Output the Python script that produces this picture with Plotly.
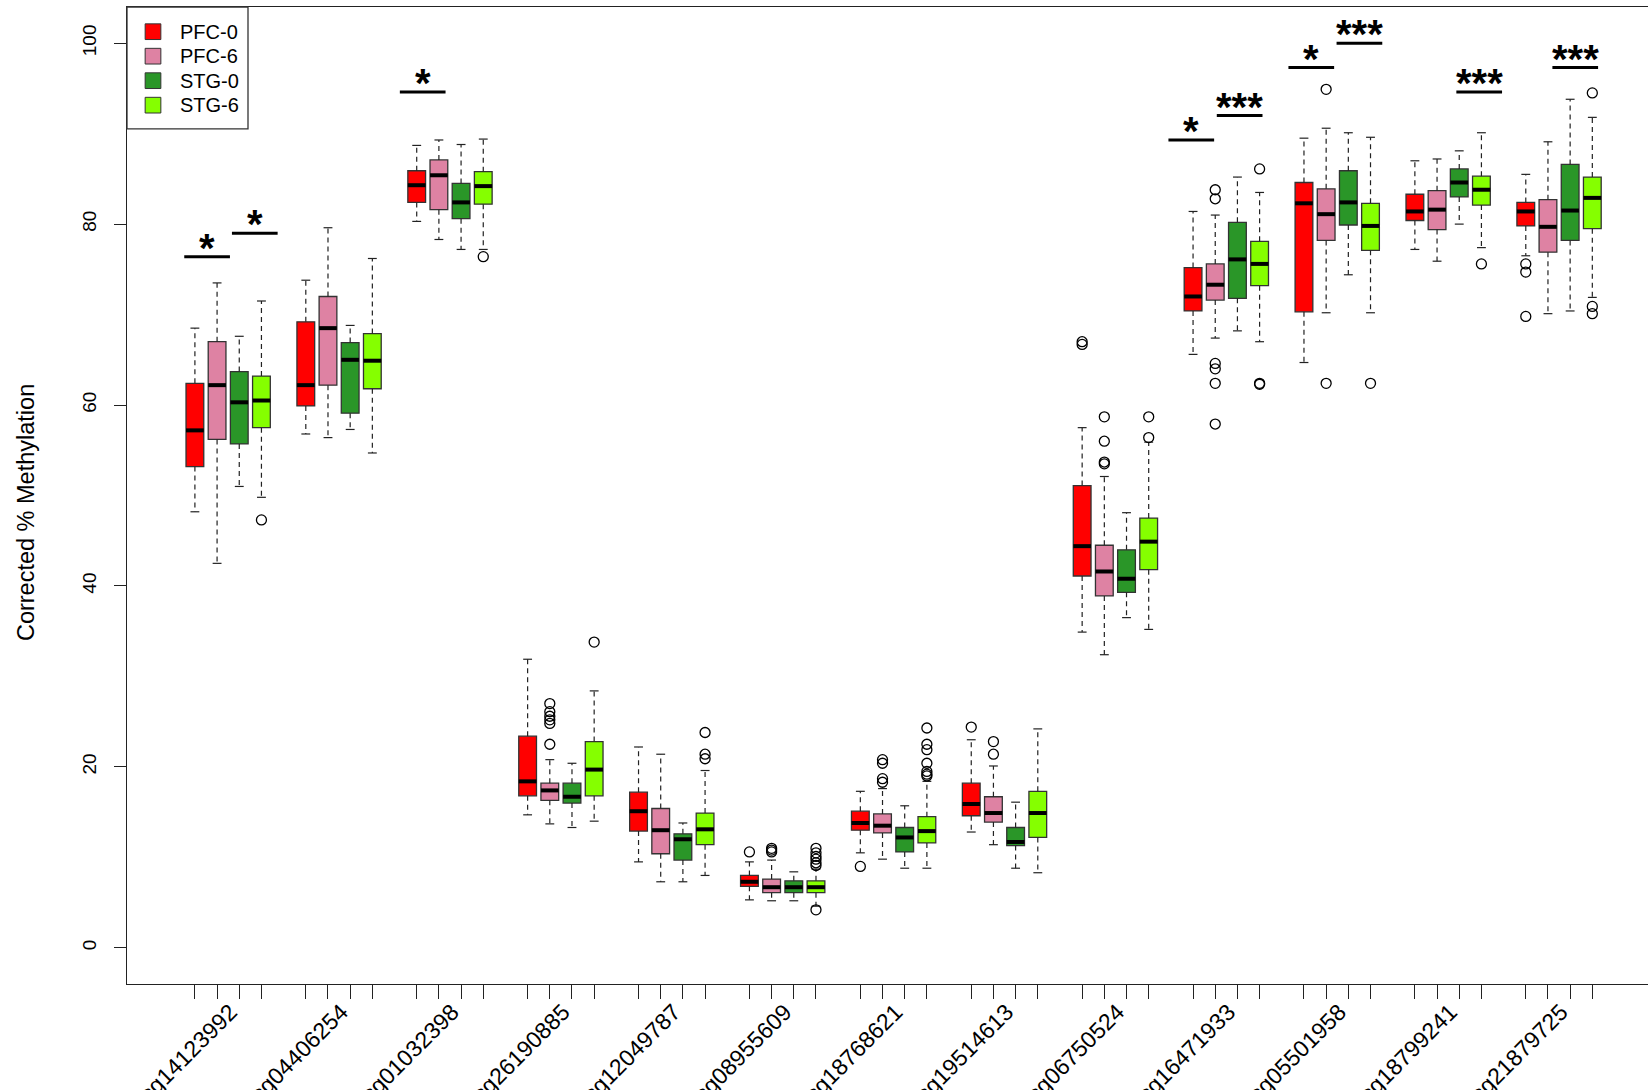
import plotly.graph_objects as go

# CpG sites on the x axis
sites = ["cg14123992", "cg04406254", "cg01032398", "cg26190885", "cg12049787",
         "cg08955609", "cg18768621", "cg19514613", "cg06750524", "cg16471933",
         "cg05501958", "cg18799241", "cg21879725"]
groups = ["PFC-0", "PFC-6", "STG-0", "STG-6"]
fill_colors = ["#FF0000", "#DE82A3", "#2A9628", "#85FF00"]

# (lower whisker, Q1, median, Q3, upper whisker) for every site
pfc0_stats = [(48.2, 53.2, 57.2, 62.4, 68.5), (56.8, 59.9, 62.2, 69.2, 73.8),
              (80.3, 82.4, 84.3, 85.9, 88.7), (14.7, 16.8, 18.4, 23.4, 31.9),
              (9.5, 12.9, 15.1, 17.2, 22.2), (5.3, 6.8, 7.3, 8.0, 9.5),
              (10.5, 13.0, 13.8, 15.1, 17.3), (12.8, 14.6, 15.9, 18.2, 23.0),
              (34.9, 41.1, 44.4, 51.1, 57.5), (65.6, 70.4, 72.0, 75.2, 81.4),
              (64.7, 70.3, 82.3, 84.6, 89.5), (77.2, 80.4, 81.4, 83.3, 87.0),
              (76.5, 79.8, 81.4, 82.4, 85.5)]
pfc6_stats = [(42.5, 56.2, 62.2, 67.0, 73.5), (56.4, 62.2, 68.5, 72.0, 79.6),
              (78.3, 81.6, 85.4, 87.1, 89.3), (13.7, 16.3, 17.4, 18.2, 20.8),
              (7.3, 10.4, 13.0, 15.4, 21.4), (5.2, 6.1, 6.7, 7.6, 9.7),
              (9.8, 12.7, 13.5, 14.8, 17.6), (11.4, 13.9, 14.9, 16.7, 20.1),
              (32.4, 38.9, 41.6, 44.5, 52.1), (67.4, 71.6, 73.3, 75.6, 81.0),
              (70.2, 78.2, 81.1, 83.9, 90.6), (75.9, 79.4, 81.6, 83.7, 87.2),
              (70.1, 76.9, 79.7, 82.7, 89.1)]
stg0_stats = [(51.0, 55.7, 60.3, 63.7, 67.6), (57.3, 59.1, 65.0, 66.9, 68.8),
              (77.2, 80.6, 82.4, 84.5, 88.8), (13.3, 16.0, 16.7, 18.2, 20.4),
              (7.3, 9.7, 12.0, 12.6, 13.8), (5.2, 6.1, 6.7, 7.4, 8.4),
              (8.8, 10.6, 12.2, 13.3, 15.7), (8.8, 11.3, 11.7, 13.3, 16.1),
              (36.5, 39.3, 40.8, 44.0, 48.1), (68.2, 71.8, 76.1, 80.2, 85.2),
              (74.4, 79.9, 82.4, 85.9, 90.1), (80.0, 83.0, 84.6, 86.1, 88.1),
              (70.4, 78.2, 81.5, 86.6, 93.8)]
stg6_stats = [(49.8, 57.5, 60.5, 63.2, 71.5), (54.7, 61.8, 64.9, 67.9, 76.2),
              (77.2, 82.2, 84.2, 85.8, 89.4), (14.0, 16.8, 19.7, 22.8, 28.4),
              (8.0, 11.4, 13.1, 14.9, 19.6), (4.6, 6.1, 6.7, 7.4, 8.7),
              (8.8, 11.6, 12.9, 14.5, 18.4), (8.3, 12.2, 14.9, 17.3, 24.2),
              (35.2, 41.8, 44.9, 47.5, 55.9), (67.0, 73.2, 75.6, 78.1, 83.5),
              (70.2, 77.1, 79.8, 82.3, 89.6), (77.4, 82.1, 83.8, 85.3, 90.1),
              (71.9, 79.5, 82.9, 85.2, 91.8)]

# points beyond the whiskers, per site
pfc0_outliers = [[], [], [], [], [], [10.6], [9.0], [24.4], [67.0, 66.7],
                 [], [], [], [75.6, 74.7, 69.8]]
pfc6_outliers = [[], [], [], [27.0, 26.1, 25.6, 25.2, 24.8, 22.5], [],
                 [11.0, 10.8, 10.6], [20.8, 20.4, 18.7, 18.3], [22.8, 21.4],
                 [58.7, 56.0, 53.7, 53.5], [83.8, 82.8, 64.6, 64.0, 62.4, 57.9],
                 [94.9, 62.4], [], []]
stg0_outliers = [[] for _ in sites]
stg6_outliers = [[47.3], [], [76.4], [33.8], [23.8, 21.4, 20.9],
                 [11.0, 10.5, 10.1, 9.8, 9.4, 9.1, 4.2],
                 [24.3, 22.5, 21.9, 20.4, 19.5, 19.2, 19.0], [], [58.7, 56.4],
                 [86.1, 62.4, 62.3], [62.4], [75.6], [94.5, 70.9, 70.1]]

# significance brackets: site, centre offset from the site's first box, height, label
sig_site = [0, 0, 2, 9, 9, 10, 10, 11, 12]
sig_offset = [0.55, 2.7, 0.27, -0.08, 2.1, 0.33, 2.5, 2.9, 2.23]
sig_height = [76.4, 79.0, 94.6, 89.3, 92.0, 97.3, 100.0, 94.6, 97.3]
sig_label = ["*", "*", "*", "*", "***", "*", "***", "***", "***"]

y_ticks = [0, 20, 40, 60, 80, 100]

all_stats = [pfc0_stats, pfc6_stats, stg0_stats, stg6_stats]
all_outliers = [pfc0_outliers, pfc6_outliers, stg0_outliers, stg6_outliers]

FONT = "Liberation Sans, Arial, Helvetica, sans-serif"
INK = "#222222"
BOX_W = 0.8
CAP_W = 0.4
SIG_HALF = 1.03

# page geometry (px)
W, H = 1648, 1090
M_L, M_T, M_B = 127, 7, 105.6
PLOT_W = W - M_L
PLOT_H = H - M_T - M_B


def box_pos(site, g):
    # four boxes per site, one empty slot between sites
    return 5 * site + g + 1


def px_to_paper(px, py):
    return (px - M_L) / PLOT_W, (H - M_B - py) / PLOT_H


fig = go.Figure()

for g, name in enumerate(groups):
    stats = all_stats[g]
    xs = [box_pos(s, g) for s in range(len(sites))]
    lo = [st[0] for st in stats]
    q1 = [st[1] for st in stats]
    med = [st[2] for st in stats]
    q3 = [st[3] for st in stats]
    hi = [st[4] for st in stats]

    # dashed whiskers
    wx, wy = [], []
    for x, a, b, c, d in zip(xs, lo, q1, q3, hi):
        wx += [x, x, None, x, x, None]
        wy += [c, d, None, b, a, None]
    fig.add_trace(go.Scatter(x=wx, y=wy, mode="lines", showlegend=False,
                             hoverinfo="skip",
                             line=dict(color=INK, width=1.2, dash="5px,4px")))
    # whisker staples
    cx, cy = [], []
    for x, a, d in zip(xs, lo, hi):
        cx += [x - CAP_W / 2, x + CAP_W / 2, None, x - CAP_W / 2, x + CAP_W / 2, None]
        cy += [d, d, None, a, a, None]
    fig.add_trace(go.Scatter(x=cx, y=cy, mode="lines", showlegend=False,
                             hoverinfo="skip", line=dict(color=INK, width=1.2)))

    # boxes (Q1 to Q3)
    fig.add_trace(go.Box(x=xs, q1=q1, median=med, q3=q3, lowerfence=q1,
                         upperfence=q3, width=BOX_W, fillcolor=fill_colors[g],
                         line=dict(color="#333333", width=1.3), whiskerwidth=0,
                         boxpoints=False, showlegend=False, name=name))

    # thick median bars
    mx, my = [], []
    for x, m in zip(xs, med):
        mx += [x - BOX_W / 2, x + BOX_W / 2, None]
        my += [m, m, None]
    fig.add_trace(go.Scatter(x=mx, y=my, mode="lines", showlegend=False,
                             hoverinfo="skip", line=dict(color="black", width=4)))

    # outliers
    ox, oy = [], []
    for s, pts in enumerate(all_outliers[g]):
        for v in pts:
            ox.append(box_pos(s, g))
            oy.append(v)
    fig.add_trace(go.Scatter(x=ox, y=oy, mode="markers", showlegend=False,
                             hoverinfo="skip",
                             marker=dict(symbol="circle-open", size=10,
                                         color="black", line=dict(width=1.3))))

# invisible trace carrying the site labels axis
label_pos = [5 * s + 2.6 for s in range(len(sites))]
fig.add_trace(go.Scatter(x=label_pos, y=[None] * len(sites), xaxis="x2",
                         mode="markers", showlegend=False, hoverinfo="skip"))

# significance brackets
for s, off, h, lab in zip(sig_site, sig_offset, sig_height, sig_label):
    c = box_pos(s, 0) + off
    fig.add_shape(type="line", xref="x", yref="y", x0=c - SIG_HALF,
                  x1=c + SIG_HALF, y0=h, y1=h, line=dict(color="black", width=3))
    fig.add_annotation(x=c, y=h, xref="x", yref="y", text="<b>" + lab + "</b>",
                       showarrow=False, yanchor="bottom", yshift=-15,
                       font=dict(family=FONT, size=40, color="black"))

# legend box in the top-left corner of the plot
LEG_RIGHT, LEG_BOTTOM = 248, 129
ROW0, ROW_STEP, SQ = 31.7, 24.5, 15.7
SQ_CX, TEXT_X = 153, 179
lx0, ly0 = px_to_paper(M_L, M_T)
lx1, ly1 = px_to_paper(LEG_RIGHT, LEG_BOTTOM)
fig.add_shape(type="rect", xref="paper", yref="paper", x0=lx0, x1=lx1,
              y0=ly1, y1=ly0, line=dict(color="#333333", width=1.3),
              fillcolor="white", layer="above")
for g, name in enumerate(groups):
    cy = ROW0 + g * ROW_STEP
    sx0, sy0 = px_to_paper(SQ_CX - SQ / 2, cy - SQ / 2)
    sx1, sy1 = px_to_paper(SQ_CX + SQ / 2, cy + SQ / 2)
    fig.add_shape(type="rect", xref="paper", yref="paper", x0=sx0, x1=sx1,
                  y0=sy1, y1=sy0, fillcolor=fill_colors[g],
                  line=dict(color="#333333", width=1), layer="above")
    tx, ty = px_to_paper(TEXT_X, cy)
    fig.add_annotation(text=name, xref="paper", yref="paper", x=tx, y=ty,
                       xanchor="left", yanchor="middle", showarrow=False,
                       borderpad=0,
                       font=dict(family=FONT, size=20, color="black"))

x_range = [-2.061, 66.51]
all_box_pos = [box_pos(s, g) for s in range(len(sites)) for g in range(4)]

fig.update_layout(
    width=W, height=H, autosize=False,
    margin=dict(l=M_L, r=0, t=M_T, b=M_B, pad=0, autoexpand=False),
    paper_bgcolor="white", plot_bgcolor="white",
    boxmode="overlay",
    font=dict(family=FONT, color="black"),
    showlegend=False,
    xaxis=dict(range=x_range, tickmode="array", tickvals=all_box_pos,
               showticklabels=False, ticks="outside", ticklen=14,
               tickwidth=1, tickcolor=INK, showline=True, linecolor=INK,
               linewidth=1.3, mirror=True, showgrid=False, zeroline=False,
               automargin=False),
    xaxis2=dict(range=x_range, overlaying="x", anchor="y", side="bottom",
                tickmode="array", tickvals=label_pos, ticktext=sites,
                ticks="", tickangle=-45, ticklabelstandoff=9,
                tickfont=dict(family=FONT, size=23, color="black"),
                showline=False, showgrid=False, zeroline=False,
                automargin=False),
    yaxis=dict(range=[-4, 104], tickmode="array", tickvals=y_ticks,
               ticktext=[str(v) for v in y_ticks], ticks="outside",
               ticklen=12, tickwidth=1, tickcolor=INK, tickangle=-90,
               tickfont=dict(family=FONT, size=19, color="black"),
               ticklabelstandoff=10,
               showline=True, linecolor=INK, linewidth=1.3, mirror=False,
               showgrid=False, zeroline=False, automargin=False),
)

fig.add_annotation(text="Corrected % Methylation", xref="paper", yref="paper",
                   x=0, y=0.482, xshift=-101, textangle=-90, showarrow=False,
                   xanchor="center", yanchor="middle",
                   font=dict(family=FONT, size=23.5, color="black"))

fig.write_html("out.html")
